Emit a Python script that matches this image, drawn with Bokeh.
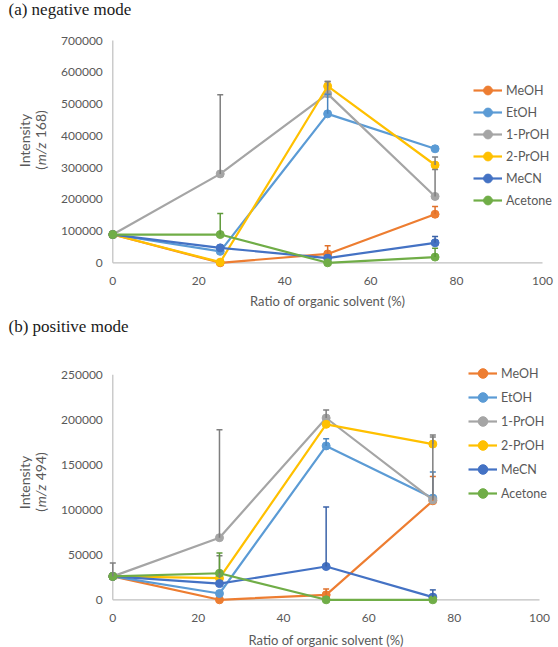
import math
from bokeh.plotting import figure
from bokeh.layouts import column
from bokeh.models import (Range1d, ColumnDataSource, Whisker, TeeHead, Legend,
                          LegendItem, Label)
from bokeh.embed import file_html
from bokeh.resources import INLINE

# ---- data -------------------------------------------------------------
ratio = [0, 25, 50, 75]  # organic solvent (%)
solvents = ["MeOH", "EtOH", "1-PrOH", "2-PrOH", "MeCN", "Acetone"]

# (a) negative mode, m/z 168 : mean intensities
neg_meoh = [89000, 0, 28000, 153000]
neg_etoh = [89000, 36000, 469000, 359000]
neg_1proh = [89000, 280000, 532000, 209000]
neg_2proh = [89000, 2000, 556000, 308000]
neg_mecn = [89000, 47000, 15000, 63000]
neg_acetone = [89000, 89000, 0, 18000]
# upper error (one-sided)
neg_meoh_err = [0, 0, 26000, 24000]
neg_etoh_err = [0, 0, 62000, 0]
neg_1proh_err = [0, 249000, 39000, 85000]
neg_2proh_err = [0, 0, 15000, 25000]
neg_mecn_err = [0, 0, 0, 20000]
neg_acetone_err = [0, 66000, 0, 28000]

# (b) positive mode, m/z 494 : mean intensities
pos_meoh = [26000, 0, 5500, 110000]
pos_etoh = [26000, 7000, 171000, 113000]
pos_1proh = [26000, 69000, 202000, 111000]
pos_2proh = [26000, 24000, 195000, 173000]
pos_mecn = [26000, 18000, 37000, 3000]
pos_acetone = [26000, 29500, 0, 0]
# upper error (one-sided)
pos_meoh_err = [0, 0, 6500, 27000]
pos_etoh_err = [0, 0, 8000, 29000]
pos_1proh_err = [15000, 120000, 9000, 72000]
pos_2proh_err = [0, 25000, 0, 8000]
pos_mecn_err = [0, 0, 66000, 8000]
pos_acetone_err = [0, 22500, 0, 0]

neg_values = [neg_meoh, neg_etoh, neg_1proh, neg_2proh, neg_mecn, neg_acetone]
neg_errors = [neg_meoh_err, neg_etoh_err, neg_1proh_err, neg_2proh_err, neg_mecn_err, neg_acetone_err]
pos_values = [pos_meoh, pos_etoh, pos_1proh, pos_2proh, pos_mecn, pos_acetone]
pos_errors = [pos_meoh_err, pos_etoh_err, pos_1proh_err, pos_2proh_err, pos_mecn_err, pos_acetone_err]

x_ticks = [0, 20, 40, 60, 80, 100]
neg_y_ticks = [0, 100000, 200000, 300000, 400000, 500000, 600000, 700000]
pos_y_ticks = [0, 50000, 100000, 150000, 200000, 250000]

# ---- style ------------------------------------------------------------
colors = ["#ED7D31", "#5B9BD5", "#A5A5A5", "#FFC000", "#4472C4", "#70AD47"]
err_colors = ["#E0702A", "#4A86C0", "#7F7F7F", "#7F7F7F", "#3A62A8", "#5F9A3A"]
SANS = "Lato"
SERIF = "Liberation Serif"
TEXT = "#595959"
AXIS = "#BFBFBF"
W = 558


def panel(values, errors, y_ticks, H, box, title, mz, legend_xy, legend_row,
          title_y, ylab_y, xlab_y):
    # box = (left, right, top, bottom) pixel edges of the plotting area;
    # the whole canvas is the frame, so the axes are drawn by hand.
    left, right, top, bottom = box
    x0, x1 = x_ticks[0], x_ticks[-1]
    y0, y1 = y_ticks[0], y_ticks[-1]
    sx = (right - left) / (x1 - x0)
    sy = (bottom - top) / (y1 - y0)
    xr = Range1d(x0 - left / sx, x1 + (W - right) / sx)
    yr = Range1d(y0 - (H - bottom) / sy, y1 + top / sy)

    p = figure(width=W, height=H, frame_width=W, frame_height=H,
               output_backend="svg", toolbar_location=None,
               min_border=0, x_range=xr, y_range=yr)
    p.axis.visible = False
    p.grid.visible = False
    p.outline_line_color = None
    p.background_fill_color = "white"
    p.border_fill_color = "white"

    # axis lines from the origin
    p.segment(x0=[x0, x0], y0=[y0, y0], x1=[x0, x1], y1=[y1, y0],
              line_color=AXIS, line_width=1.2)
    # tick labels
    p.text(x=[x0] * len(y_ticks), y=y_ticks, text=[str(t) for t in y_ticks],
           x_offset=-10, text_align="right", text_baseline="middle",
           text_font={"value": SANS}, text_font_size="12px", text_color=TEXT)
    p.text(x=x_ticks, y=[y0] * len(x_ticks), text=[str(t) for t in x_ticks],
           y_offset=18, text_align="center", text_baseline="middle",
           text_font={"value": SANS}, text_font_size="12px", text_color=TEXT)

    items = []
    for name, vals, errs, c, ec in zip(solvents, values, errors, colors, err_colors):
        idx = [i for i, e in enumerate(errs) if e > 0]
        if idx:
            src = ColumnDataSource(dict(
                base=[ratio[i] for i in idx],
                lower=[vals[i] for i in idx],
                upper=[vals[i] + errs[i] for i in idx]))
            p.add_layout(Whisker(source=src, base="base", lower="lower", upper="upper",
                                 dimension="height", line_color=ec, line_width=1.5,
                                 lower_head=None,
                                 upper_head=TeeHead(size=6, line_color=ec, line_width=1.5),
                                 level="glyph"))
        ln = p.line(ratio, vals, line_color=c, line_width=2.2)
        pt = p.scatter(ratio, vals, marker="circle", size=8, fill_color=c, line_color=c)
        items.append(LegendItem(label=name, renderers=[ln, pt]))

    legend = Legend(items=items, location=legend_xy, orientation="vertical",
                    glyph_width=29, glyph_height=legend_row, label_height=legend_row,
                    spacing=0, padding=0, margin=0, label_standoff=4,
                    label_text_font=SANS, label_text_font_size="12.5px",
                    label_text_color=TEXT, border_line_color=None,
                    background_fill_alpha=0)
    p.add_layout(legend, "center")

    # panel title
    p.add_layout(Label(x=8, y=title_y, x_units="screen", y_units="screen",
                       text=title, text_font=SERIF, text_font_size="17px",
                       text_color="#1a1a1a", text_baseline="alphabetic"))
    # y axis title: "Intensity" / "(m/z NNN)"
    p.add_layout(Label(x=24, y=ylab_y, x_units="screen", y_units="screen",
                       text="Intensity", angle=math.pi / 2, text_align="center",
                       text_baseline="middle", text_font=SANS,
                       text_font_size="14px", text_color=TEXT))
    parts = [("(", "normal", 4.5), ("m/z", "italic", 27.0), (mz + ")", "normal", 27.0)]
    total = sum(w for _, _, w in parts)
    pos = ylab_y - total / 2
    for txt, style, w in parts:
        p.add_layout(Label(x=40, y=pos, x_units="screen", y_units="screen",
                           text=txt, angle=math.pi / 2, text_align="left",
                           text_baseline="middle", text_font=SANS,
                           text_font_style=style, text_font_size="14px",
                           text_color=TEXT))
        pos += w
    # x axis title
    p.add_layout(Label(x=(left + right) / 2, y=xlab_y, x_units="screen", y_units="screen",
                       text="Ratio of organic solvent (%)", text_align="center",
                       text_baseline="middle", text_font=SANS,
                       text_font_size="13px", text_color=TEXT))
    return p


pa = panel(neg_values, neg_errors, neg_y_ticks, 312, (112.3, 542, 40, 262.3),
           "(a) negative mode", "168", (473, 101), 22, 303, 172, 12)
pb = panel(pos_values, pos_errors, pos_y_ticks, 335, (112.3, 539, 62.3, 287.3),
           "(b) positive mode", "494", (468, 142), 24, 321.5, 165, 8)

layout = column(pa, pb, spacing=0)
open("out.html", "w").write(file_html(layout, INLINE))
